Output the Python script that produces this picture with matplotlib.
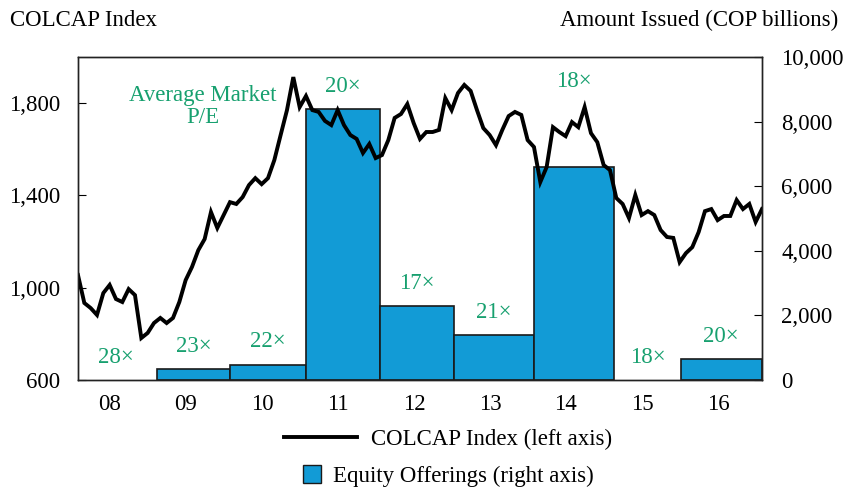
"""
COLCAP index vs. equity offerings, 2008-2016
"""
import matplotlib
matplotlib.use("Agg")
import matplotlib.pyplot as plt
import numpy as np
from matplotlib.lines import Line2D
from matplotlib.patches import Patch

plt.rcParams['font.family'] = ['Liberation Serif', 'DejaVu Serif']

# monthly COLCAP index, Jan 2008 .. Jan 2017
colcap = [1055, 934, 912, 882, 977, 1012, 951, 938, 994, 968,
          782, 804, 847, 869, 847, 869, 938, 1033, 1090, 1163,
          1211, 1328, 1259, 1315, 1371, 1363, 1393, 1445, 1475, 1449,
          1475, 1553, 1662, 1770, 1913, 1783, 1831, 1770, 1762, 1723,
          1705, 1770, 1705, 1662, 1645, 1584, 1623, 1562, 1575, 1640,
          1736, 1753, 1796, 1714, 1645, 1675, 1675, 1684, 1822, 1770,
          1844, 1879, 1853, 1770, 1692, 1662, 1618, 1684, 1744, 1762,
          1749, 1640, 1610, 1458, 1523, 1696, 1675, 1657, 1718, 1696,
          1783, 1670, 1631, 1532, 1510, 1389, 1363, 1302, 1402, 1315,
          1332, 1315, 1250, 1220, 1216, 1111, 1150, 1176, 1241, 1332,
          1341, 1293, 1311, 1311, 1380, 1341, 1363, 1285, 1341]

years = [2008, 2009, 2010, 2011, 2012, 2013, 2014, 2015, 2016]
year_labels = ['08', '09', '10', '11', '12', '13', '14', '15', '16']
pe_ratio = [28, 23, 22, 20, 17, 21, 18, 18, 20]

# equity offerings (COP billions), periods in fractional years
offer_start = [2009.04, 2010.0, 2011.0, 2011.97, 2012.95, 2014.0, 2015.93]
offer_end = [2010.0, 2011.0, 2011.97, 2012.95, 2014.0, 2015.05, 2017.0]
offer_amount = [330, 480, 8400, 2300, 1400, 6600, 650]

GREEN = '#17a06f'
BLUE = '#129bd6'
FS = 16.5

fig = plt.figure(figsize=(8.44, 4.92), dpi=100)
ax = fig.add_axes([0.0924, 0.2276, 0.8104, 0.6565])
ax2 = ax.twinx()

# bars on the right axis
starts = np.array(offer_start)
ends = np.array(offer_end)
ax2.bar(starts, np.array(offer_amount), width=ends - starts, align='edge',
        color=BLUE, edgecolor='#1a1a1a', linewidth=1.2)

# P/E labels above each year
for i, yr in enumerate(years):
    amt = 0
    xc = yr + 0.5
    for s, e, a in zip(offer_start, offer_end, offer_amount):
        if s <= yr + 0.5 < e:
            amt = a
            xc = (s + e) / 2
    ylab = amt + 700
    if yr == 2014:
        ylab = 9230
    ax2.text(xc, ylab, f'{pe_ratio[i]}\u00d7', color=GREEN, fontsize=FS,
             ha='center', va='center')
ax2.text(2009.64, 8470, 'Average Market\nP/E', color=GREEN, fontsize=FS,
         ha='center', va='center', linespacing=1.05)

# line on the left axis
x = np.linspace(2008, 2017, len(colcap))
ax.plot(x, colcap, color='black', linewidth=2.8, solid_joinstyle='miter')
ax.set_zorder(ax2.get_zorder() + 1)
ax.patch.set_visible(False)

ax.set_xlim(2008, 2017)
ax.set_ylim(600, 2000)
ax.set_yticks([600, 1000, 1400, 1800])
ax.set_yticklabels(['600', '1,000', '1,400', '1,800'])
ax2.set_ylim(0, 10000)
ax2.set_yticks([0, 2000, 4000, 6000, 8000, 10000])
ax2.set_yticklabels(['0', '2,000', '4,000', '6,000', '8,000', '10,000'])

ax.set_xticks([y + 0.42 for y in years])
ax.set_xticklabels(year_labels)
ax.tick_params(axis='x', length=0, pad=10, labelsize=FS)
ax.tick_params(axis='y', direction='in', length=6, labelsize=FS, pad=13)
ax2.tick_params(axis='y', direction='in', length=6, labelsize=FS, pad=14)

for a in (ax, ax2):
    for sp in a.spines.values():
        sp.set_color('#222222')
        sp.set_linewidth(1.0)

fig.text(0.012, 0.958, 'COLCAP Index', fontsize=FS, ha='left', va='center')
fig.text(0.993, 0.958, 'Amount Issued (COP billions)', fontsize=FS,
         ha='right', va='center')

fig.legend(handles=[Line2D([0], [0], color='black', linewidth=2.8)],
           labels=['COLCAP Index (left axis)'], loc='center',
           bbox_to_anchor=(0.531, 0.107), frameon=False, fontsize=FS,
           handlelength=3.2, handletextpad=0.6)
fig.legend(handles=[Patch(facecolor=BLUE, edgecolor='#1a1a1a', linewidth=1.0)],
           labels=['Equity Offerings (right axis)'], loc='center',
           bbox_to_anchor=(0.531, 0.032), frameon=False, fontsize=FS,
           handlelength=0.8, handleheight=0.8, handletextpad=0.5)

fig.savefig('out.png', dpi=100)
